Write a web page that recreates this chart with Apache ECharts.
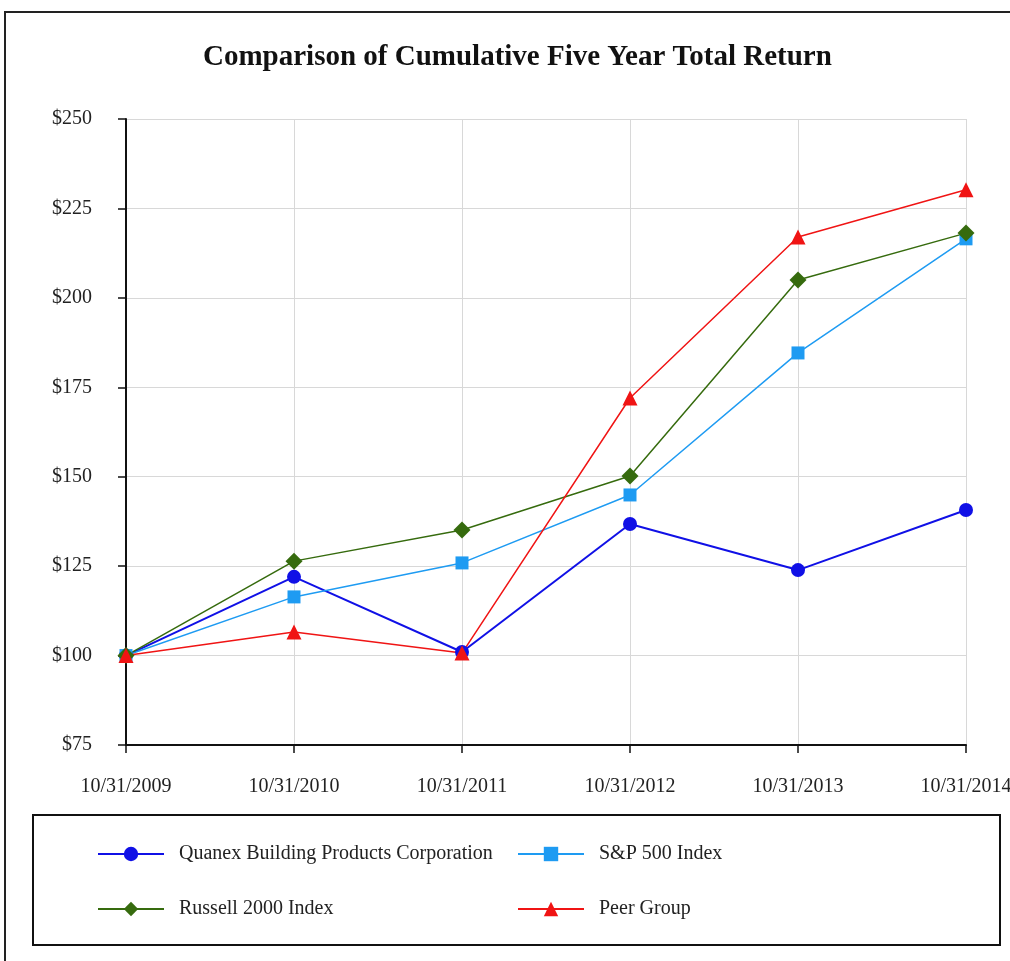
<!DOCTYPE html>
<html>
<head>
<meta charset="utf-8">
<script src="https://cdn.jsdelivr.net/npm/echarts@6/dist/echarts.min.js"></script>
<style>
html, body { margin: 0; padding: 0; background: #fff; }
#main { width: 1010px; height: 961px; }
</style>
</head>
<body>
<div id="main"></div>
<script>
// 数据
const categories = ['10/31/2009', '10/31/2010', '10/31/2011', '10/31/2012', '10/31/2013', '10/31/2014']
const quanex = [100, 122.0, 101.0, 136.8, 123.9, 140.7]
const sp500 = [100, 116.4, 125.9, 144.9, 184.6, 216.5]
const russell = [100, 126.4, 135.1, 150.2, 205.0, 218.1]
const peer = [100, 106.6, 100.7, 172.0, 217.0, 230.2]
const seriesNames = ['Quanex Building Products Corporation', 'S&P 500 Index', 'Russell 2000 Index', 'Peer Group']

const serif = '"Liberation Serif", "DejaVu Serif", serif'

function makeSeries (name, data, color, symbol, size, width) {
    return {
        name: name,
        type: 'line',
        data: data,
        symbol: symbol,
        symbolSize: size,
        showAllSymbol: true,
        lineStyle: { color: color, width: width },
        itemStyle: { color: color },
        emphasis: { disabled: true }
    }
}

function makeLegend (name, left, top) {
    return {
        data: [name],
        left: left,
        top: top,
        itemWidth: 66,
        itemHeight: 18,
        textStyle: { fontFamily: serif, fontSize: 20, color: '#222', padding: [0, 0, 0, 10] },
        selectedMode: false
    }
}

const option = {
    animation: false,
    backgroundColor: '#fff',
    title: {
        text: 'Comparison of Cumulative Five Year Total Return',
        left: 198,
        top: 38,
        textStyle: { fontFamily: serif, fontSize: 29, fontWeight: 'bold', color: '#111' }
    },
    graphic: [
        { type: 'rect', shape: { x: 5, y: 12, width: 1010, height: 960 }, style: { fill: 'none', stroke: '#222', lineWidth: 2 } },
        { type: 'rect', shape: { x: 33, y: 815, width: 967, height: 130 }, style: { fill: 'none', stroke: '#111', lineWidth: 2 } }
    ],
    legend: [
        makeLegend(seriesNames[0], 92, 839),
        makeLegend(seriesNames[1], 512, 839),
        makeLegend(seriesNames[2], 92, 894),
        makeLegend(seriesNames[3], 512, 894)
    ],
    grid: { left: 126, right: 44, top: 119, bottom: 216, outerBoundsMode: 'none', containLabel: false },
    xAxis: {
        type: 'category',
        data: categories,
        boundaryGap: false,
        axisLine: { lineStyle: { color: '#111', width: 2 } },
        axisTick: { show: true, length: 8, lineStyle: { color: '#111', width: 1.5 } },
        axisLabel: { fontFamily: serif, fontSize: 20, color: '#222', margin: 32, interval: 0 },
        splitLine: { show: true, lineStyle: { color: '#d8d8d8', width: 1 } }
    },
    yAxis: {
        type: 'value',
        min: 75,
        max: 250,
        interval: 25,
        axisLine: { show: true, lineStyle: { color: '#111', width: 2 } },
        axisTick: { show: true, length: 8, lineStyle: { color: '#111', width: 1.5 } },
        axisLabel: { fontFamily: serif, fontSize: 20, color: '#222', margin: 34, formatter: '${value}' },
        splitLine: { show: true, lineStyle: { color: '#d8d8d8', width: 1 } }
    },
    series: [
        makeSeries(seriesNames[0], quanex, '#1010e6', 'circle', 14, 2),
        makeSeries(seriesNames[1], sp500, '#1e9bf2', 'rect', 13, 1.5),
        makeSeries(seriesNames[2], russell, '#366b0e', 'diamond', 17, 1.5),
        makeSeries(seriesNames[3], peer, '#f01414', 'triangle', 15, 1.5)
    ]
}

const myChart = echarts.init(document.getElementById('main'))
myChart.setOption(option)
</script>
</body>
</html>
